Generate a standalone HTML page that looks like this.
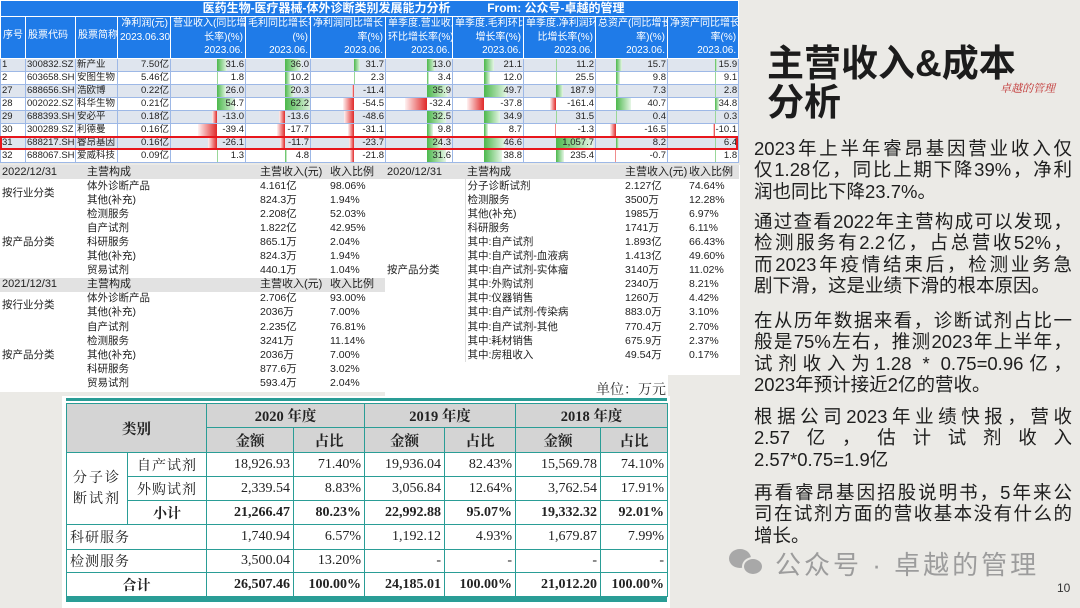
<!DOCTYPE html>
<html><head><meta charset="utf-8">
<style>
*{margin:0;padding:0;box-sizing:border-box}
body{width:1080px;height:608px;overflow:hidden;background:#ebeae6;font-family:"Liberation Sans","Noto Sans CJK SC",sans-serif;position:relative;color:#222}
.a{position:absolute}
table{border-collapse:collapse;table-layout:fixed}
#top{left:0;top:0;width:738px}
#top td{height:13.1px;font-size:9.5px;line-height:12px;padding:0 1px;border:1px solid #9db8e6;position:relative;white-space:nowrap;overflow:hidden}
#top tr.o td{background:#dfe5ee}
#top tr.e td{background:#fff}
#top td.n{text-align:right}
#top td.n span{position:relative;z-index:2}
#top td i{position:absolute;top:0;bottom:0;z-index:1}
i.g{background:linear-gradient(90deg,#4cb84c,#e6f6e6)}
i.r{background:linear-gradient(90deg,#fff2f2,#e02828)}
#top .h td{background:#1f7be8;color:#fff;font-size:10px;border:1px solid #fff;padding:0 2px;line-height:13.5px;vertical-align:top}
.mt td{font-size:10.5px;line-height:13px;height:14.1px;padding:0 2px;white-space:nowrap;overflow:hidden}
.mt tr.hd td{background:#e2e2e2;font-size:11px}
.bt td{font-family:"Liberation Serif","Noto Serif CJK SC",serif;font-size:14px;border:1.5px solid #2a9d96;text-align:right;padding:0 3px;white-space:nowrap}
.bt tr.hh td{background:#d4d4d4;font-weight:bold;text-align:center;font-size:14.5px}
.bt td.l{text-align:left}
.bt td.c{text-align:center}
.bt b{font-weight:bold}
.p{left:754px;width:318px;font-size:18.5px;line-height:21.4px;color:#1e1e1e}
.p div{text-align:justify;text-align-last:justify;white-space:nowrap}
.p div.x{text-align-last:left}
</style></head><body>

<table id="top" class="a">
<colgroup><col style="width:25px"><col style="width:50px"><col style="width:42px"><col style="width:53px"><col style="width:75px"><col style="width:65px"><col style="width:75px"><col style="width:67px"><col style="width:71px"><col style="width:72px"><col style="width:72px"><col style="width:71px"></colgroup>
<tr class="h"><td colspan="12" style="height:16px;font-size:12px;font-weight:bold;text-align:center;line-height:15px;padding-left:90px">医药生物-医疗器械-体外诊断类别发展能力分析 &nbsp; &nbsp; &nbsp; &nbsp; &nbsp; From: 公众号-卓越的管理</td></tr>
<tr class="h"><td style="height:41px;padding-top:12px">序号</td><td style="padding-top:12px">股票代码</td><td style="padding-top:12px">股票简称</td><td style="text-align:right">净利润(元)<br>2023.06.30</td><td style="text-align:right">营业收入(同比增<br>长率)(%)<br>2023.06.</td><td style="text-align:right">毛利同比增长率<br>(%)<br>2023.06.</td><td style="text-align:right">净利润同比增长<br>率(%)<br>2023.06.</td><td style="text-align:right">单季度.营业收入<br>环比增长率(%)<br>2023.06.</td><td style="text-align:right">单季度.毛利环比<br>增长率(%)<br>2023.06.</td><td style="text-align:right">单季度.净利润环<br>比增长率(%)<br>2023.06.</td><td style="text-align:right">总资产(同比增长<br>率)(%)<br>2023.06.</td><td style="text-align:right">净资产同比增长<br>率(%)<br>2023.06.</td></tr>
<tr class="o"><td>1</td><td>300832.SZ</td><td>新产业</td><td class="n">7.50亿</td><td class="n"><i class="g" style="left:46px;width:10px"></i><span>31.6</span></td><td class="n"><i class="g" style="left:39px;width:16px"></i><span>36.0</span></td><td class="n"><i class="g" style="left:43px;width:6px"></i><span>31.7</span></td><td class="n"><i class="g" style="left:41px;width:8px"></i><span>13.0</span></td><td class="n"><i class="g" style="left:31px;width:10px"></i><span>21.1</span></td><td class="n"><i class="g" style="left:32px;width:1px"></i><span>11.2</span></td><td class="n"><i class="g" style="left:20px;width:6px"></i><span>15.7</span></td><td class="n"><i class="g" style="left:47px;width:2px"></i><span>15.9</span></td></tr>
<tr class="e"><td>2</td><td>603658.SH</td><td>安图生物</td><td class="n">5.46亿</td><td class="n"><i class="g" style="left:46px;width:1px"></i><span>1.8</span></td><td class="n"><i class="g" style="left:39px;width:5px"></i><span>10.2</span></td><td class="n"><i class="g" style="left:43px;width:1px"></i><span>2.3</span></td><td class="n"><i class="g" style="left:41px;width:2px"></i><span>3.4</span></td><td class="n"><i class="g" style="left:31px;width:6px"></i><span>12.0</span></td><td class="n"><i class="g" style="left:32px;width:1px"></i><span>25.5</span></td><td class="n"><i class="g" style="left:20px;width:4px"></i><span>9.8</span></td><td class="n"><i class="g" style="left:47px;width:1px"></i><span>9.1</span></td></tr>
<tr class="o"><td>27</td><td>688656.SH</td><td>浩欧博</td><td class="n">0.22亿</td><td class="n"><i class="g" style="left:46px;width:9px"></i><span>26.0</span></td><td class="n"><i class="g" style="left:39px;width:9px"></i><span>20.3</span></td><td class="n"><i class="r" style="left:41px;width:2px"></i><span>-11.4</span></td><td class="n"><i class="g" style="left:41px;width:21px"></i><span>35.9</span></td><td class="n"><i class="g" style="left:31px;width:23px"></i><span>49.7</span></td><td class="n"><i class="g" style="left:32px;width:7px"></i><span>187.9</span></td><td class="n"><i class="g" style="left:20px;width:3px"></i><span>7.3</span></td><td class="n"><i class="g" style="left:47px;width:1px"></i><span>2.8</span></td></tr>
<tr class="e"><td>28</td><td>002022.SZ</td><td>科华生物</td><td class="n">0.21亿</td><td class="n"><i class="g" style="left:46px;width:18px"></i><span>54.7</span></td><td class="n"><i class="g" style="left:39px;width:27px"></i><span>62.2</span></td><td class="n"><i class="r" style="left:32px;width:11px"></i><span>-54.5</span></td><td class="n"><i class="r" style="left:19px;width:22px"></i><span>-32.4</span></td><td class="n"><i class="r" style="left:14px;width:17px"></i><span>-37.8</span></td><td class="n"><i class="r" style="left:26px;width:6px"></i><span>-161.4</span></td><td class="n"><i class="g" style="left:20px;width:15px"></i><span>40.7</span></td><td class="n"><i class="g" style="left:47px;width:4px"></i><span>34.8</span></td></tr>
<tr class="o"><td>29</td><td>688393.SH</td><td>安必平</td><td class="n">0.18亿</td><td class="n"><i class="r" style="left:41px;width:5px"></i><span>-13.0</span></td><td class="n"><i class="r" style="left:33px;width:6px"></i><span>-13.6</span></td><td class="n"><i class="r" style="left:33px;width:10px"></i><span>-48.6</span></td><td class="n"><i class="g" style="left:41px;width:19px"></i><span>32.5</span></td><td class="n"><i class="g" style="left:31px;width:16px"></i><span>34.9</span></td><td class="n"><i class="g" style="left:32px;width:1px"></i><span>31.5</span></td><td class="n"><i class="g" style="left:20px;width:1px"></i><span>0.4</span></td><td class="n"><i class="g" style="left:47px;width:1px"></i><span>0.3</span></td></tr>
<tr class="e"><td>30</td><td>300289.SZ</td><td>利德曼</td><td class="n">0.16亿</td><td class="n"><i class="r" style="left:27px;width:19px"></i><span>-39.4</span></td><td class="n"><i class="r" style="left:31px;width:8px"></i><span>-17.7</span></td><td class="n"><i class="r" style="left:37px;width:6px"></i><span>-31.1</span></td><td class="n"><i class="g" style="left:41px;width:6px"></i><span>9.8</span></td><td class="n"><i class="g" style="left:31px;width:4px"></i><span>8.7</span></td><td class="n"><i class="r" style="left:31px;width:1px"></i><span>-1.3</span></td><td class="n"><i class="r" style="left:14px;width:6px"></i><span>-16.5</span></td><td class="n"><i class="r" style="left:45px;width:2px"></i><span>-10.1</span></td></tr>
<tr class="o"><td>31</td><td>688217.SH</td><td>睿昂基因</td><td class="n">0.16亿</td><td class="n"><i class="r" style="left:37px;width:9px"></i><span>-26.1</span></td><td class="n"><i class="r" style="left:34px;width:5px"></i><span>-11.7</span></td><td class="n"><i class="r" style="left:38px;width:5px"></i><span>-23.7</span></td><td class="n"><i class="g" style="left:41px;width:15px"></i><span>24.3</span></td><td class="n"><i class="g" style="left:31px;width:21px"></i><span>46.6</span></td><td class="n"><i class="g" style="left:32px;width:37px"></i><span>1,057.7</span></td><td class="n"><i class="g" style="left:20px;width:3px"></i><span>8.2</span></td><td class="n"><i class="g" style="left:47px;width:1px"></i><span>6.4</span></td></tr>
<tr class="e"><td>32</td><td>688067.SH</td><td>爱威科技</td><td class="n">0.09亿</td><td class="n"><i class="g" style="left:46px;width:1px"></i><span>1.3</span></td><td class="n"><i class="g" style="left:39px;width:2px"></i><span>4.8</span></td><td class="n"><i class="r" style="left:39px;width:4px"></i><span>-21.8</span></td><td class="n"><i class="g" style="left:41px;width:19px"></i><span>31.6</span></td><td class="n"><i class="g" style="left:31px;width:18px"></i><span>38.8</span></td><td class="n"><i class="g" style="left:32px;width:8px"></i><span>235.4</span></td><td class="n"><i class="r" style="left:19px;width:1px"></i><span>-0.7</span></td><td class="n"><i class="g" style="left:47px;width:1px"></i><span>1.8</span></td></tr>
</table>
<div class="a" style="left:0;top:136px;width:738px;height:14px;border:2px solid #e8161c;z-index:5"></div>

<div class="a" style="left:0;top:165px;width:390px;height:227px;background:#fff"></div>
<table class="a mt" style="left:0;top:165px;width:388px">
<colgroup><col style="width:85px"><col style="width:173px"><col style="width:70px"><col style="width:60px"></colgroup>
<tr class="hd"><td>2022/12/31</td><td>主营构成</td><td>主营收入(元)</td><td>收入比例</td></tr>
<tr><td rowspan="2">按行业分类</td><td>体外诊断产品</td><td>4.161亿</td><td>98.06%</td></tr>
<tr><td>其他(补充)</td><td>824.3万</td><td>1.94%</td></tr>
<tr><td rowspan="5">按产品分类</td><td>检测服务</td><td>2.208亿</td><td>52.03%</td></tr>
<tr><td>自产试剂</td><td>1.822亿</td><td>42.95%</td></tr>
<tr><td>科研服务</td><td>865.1万</td><td>2.04%</td></tr>
<tr><td>其他(补充)</td><td>824.3万</td><td>1.94%</td></tr>
<tr><td>贸易试剂</td><td>440.1万</td><td>1.04%</td></tr>
<tr class="hd"><td>2021/12/31</td><td>主营构成</td><td>主营收入(元)</td><td>收入比例</td></tr>
<tr><td rowspan="2">按行业分类</td><td>体外诊断产品</td><td>2.706亿</td><td>93.00%</td></tr>
<tr><td>其他(补充)</td><td>2036万</td><td>7.00%</td></tr>
<tr><td rowspan="5">按产品分类</td><td>自产试剂</td><td>2.235亿</td><td>76.81%</td></tr>
<tr><td>检测服务</td><td>3241万</td><td>11.14%</td></tr>
<tr><td>其他(补充)</td><td>2036万</td><td>7.00%</td></tr>
<tr><td>科研服务</td><td>877.6万</td><td>3.02%</td></tr>
<tr><td>贸易试剂</td><td>593.4万</td><td>2.04%</td></tr>
</table>

<div class="a" style="left:385px;top:165px;width:283px;height:232px;background:#fff"></div>
<div class="a" style="left:668px;top:165px;width:72px;height:210px;background:#fff"></div>
<table class="a mt" style="left:385px;top:165px;width:354px">
<colgroup><col style="width:80px"><col style="width:158px"><col style="width:64px"><col style="width:52px"></colgroup>
<tr class="hd"><td>2020/12/31</td><td>主营构成</td><td>主营收入(元)</td><td>收入比例</td></tr>
<tr><td rowspan="13" style="border-right:1px solid #ddd">按产品分类</td><td>分子诊断试剂</td><td>2.127亿</td><td>74.64%</td></tr>
<tr><td>检测服务</td><td>3500万</td><td>12.28%</td></tr>
<tr><td>其他(补充)</td><td>1985万</td><td>6.97%</td></tr>
<tr><td>科研服务</td><td>1741万</td><td>6.11%</td></tr>
<tr><td>其中:自产试剂</td><td>1.893亿</td><td>66.43%</td></tr>
<tr><td>其中:自产试剂-血液病</td><td>1.413亿</td><td>49.60%</td></tr>
<tr><td>其中:自产试剂-实体瘤</td><td>3140万</td><td>11.02%</td></tr>
<tr><td>其中:外购试剂</td><td>2340万</td><td>8.21%</td></tr>
<tr><td>其中:仪器销售</td><td>1260万</td><td>4.42%</td></tr>
<tr><td>其中:自产试剂-传染病</td><td>883.0万</td><td>3.10%</td></tr>
<tr><td>其中:自产试剂-其他</td><td>770.4万</td><td>2.70%</td></tr>
<tr><td>其中:耗材销售</td><td>675.9万</td><td>2.37%</td></tr>
<tr><td>其中:房租收入</td><td>49.54万</td><td>0.17%</td></tr>
</table>
<div class="a" style="left:596px;top:379px;font-family:'Liberation Serif','Noto Serif CJK SC',serif;font-size:14px;color:#333">单位：万元</div>

<div class="a" style="left:62px;top:396px;width:608px;height:212px;background:#fff"></div>
<div class="a" style="left:66px;top:398px;width:601px;height:3px;background:#2a9d96"></div>
<table class="a bt" style="left:66px;top:403px;width:601px">
<colgroup><col style="width:61px"><col style="width:79px"><col style="width:87px"><col style="width:71px"><col style="width:80px"><col style="width:71px"><col style="width:85px"><col style="width:67px"></colgroup>
<tr class="hh" style="height:24px"><td colspan="2" rowspan="2">类别</td><td colspan="2">2020 年度</td><td colspan="2">2019 年度</td><td colspan="2">2018 年度</td></tr>
<tr class="hh" style="height:25px"><td>金额</td><td>占比</td><td>金额</td><td>占比</td><td>金额</td><td>占比</td></tr>
<tr style="height:24px"><td rowspan="3" class="c" style="line-height:21px;letter-spacing:2px">分子诊<br>断试剂</td><td class="c" style="letter-spacing:1px">自产试剂</td><td>18,926.93</td><td>71.40%</td><td>19,936.04</td><td>82.43%</td><td>15,569.78</td><td>74.10%</td></tr>
<tr style="height:24px"><td class="c" style="letter-spacing:1px">外购试剂</td><td>2,339.54</td><td>8.83%</td><td>3,056.84</td><td>12.64%</td><td>3,762.54</td><td>17.91%</td></tr>
<tr style="height:24px;font-weight:bold"><td class="c"><b>小计</b></td><td><b>21,266.47</b></td><td><b>80.23%</b></td><td><b>22,992.88</b></td><td><b>95.07%</b></td><td><b>19,332.32</b></td><td><b>92.01%</b></td></tr>
<tr style="height:25px"><td colspan="2" class="l" style="letter-spacing:1px">科研服务</td><td>1,740.94</td><td>6.57%</td><td>1,192.12</td><td>4.93%</td><td>1,679.87</td><td>7.99%</td></tr>
<tr style="height:23px"><td colspan="2" class="l" style="letter-spacing:1px">检测服务</td><td>3,500.04</td><td>13.20%</td><td>-</td><td>-</td><td>-</td><td>-</td></tr>
<tr style="height:24px"><td colspan="2" class="c"><b>合计</b></td><td><b>26,507.46</b></td><td><b>100.00%</b></td><td><b>24,185.01</b></td><td><b>100.00%</b></td><td><b>21,012.20</b></td><td><b>100.00%</b></td></tr>
</table>
<div class="a" style="left:66px;top:597px;width:601px;height:5px;background:#2a9d96"></div>

<div class="a" style="left:767px;top:44px;font-size:37px;font-weight:bold;line-height:39px;color:#1c1c1c">主营收入&amp;成本<br>分析</div>
<div class="a" style="left:1000px;top:80px;font-size:11px;color:#c03030;font-style:italic;font-family:'Noto Serif CJK SC',serif">卓越的管理</div>
<div class="a p" style="top:138px"><div>2023年上半年睿昂基因营业收入仅</div><div>仅1.28亿，同比上期下降39%，净利</div><div class="x">润也同比下降23.7%。</div></div>
<div class="a p" style="top:211px"><div>通过查看2022年主营构成可以发现，</div><div>检测服务有2.2亿，占总营收52%，</div><div>而2023年疫情结束后，检测业务急</div><div class="x">剧下滑，这是业绩下滑的根本原因。</div></div>
<div class="a p" style="top:310px"><div>在从历年数据来看，诊断试剂占比一</div><div>般是75%左右，推测2023年上半年，</div><div>试剂收入为1.28 * 0.75=0.96亿，</div><div class="x">2023年预计接近2亿的营收。</div></div>
<div class="a p" style="top:406px"><div>根据公司2023年业绩快报，营收</div><div>2.57亿，估计试剂收入</div><div class="x">2.57*0.75=1.9亿</div></div>
<div class="a p" style="top:482px"><div>再看睿昂基因招股说明书，5年来公</div><div>司在试剂方面的营收基本没有什么的</div><div class="x">增长。</div></div>

<div class="a" style="left:729px;top:549px;width:22px;height:19px;border-radius:50%;background:#a8a8a8"></div>
<div class="a" style="left:742px;top:557px;width:22px;height:19px;border-radius:50%;background:#a8a8a8;border:2px solid #ebeae6"></div>
<div class="a" style="left:775px;top:549px;font-size:26px;color:#9c9c9c;letter-spacing:3px;line-height:32px">公众号 · 卓越的管理</div>
<div class="a" style="left:1057px;top:581px;font-size:12px;color:#333">10</div>
</body></html>
